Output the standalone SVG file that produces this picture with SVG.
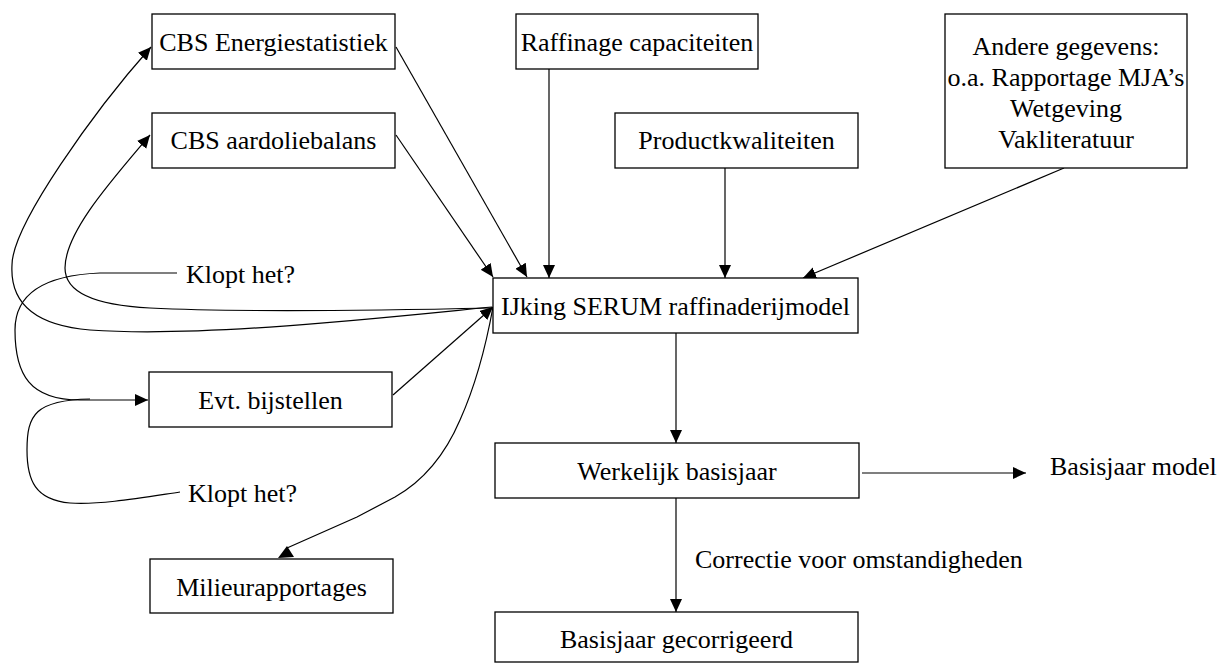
<svg xmlns="http://www.w3.org/2000/svg" width="1221" height="664" viewBox="0 0 1221 664">
<style>
.box{fill:#fff;stroke:#000;stroke-width:1.3}
.t{font-family:"Liberation Serif","Times New Roman",serif;font-size:26px;fill:#000}
.c{text-anchor:middle}
.ln{fill:none;stroke:#000;stroke-width:1.2}
.ar{marker-end:url(#ah)}
</style>
<defs>
<marker id="ah" markerUnits="userSpaceOnUse" markerWidth="14" markerHeight="13" refX="13" refY="6" orient="auto">
<path d="M0,0 L13,6 L0,12 z" fill="#000"/>
</marker>
</defs>
<rect width="1221" height="664" fill="#fff"/>
<g id="connectors">
<path class="ln ar" d="M396,47 L527,277"/>
<path class="ln ar" d="M396,135 L493,277"/>
<path class="ln ar" d="M549,69 L549,278"/>
<path class="ln ar" d="M725,168 L725,278"/>
<path class="ln ar" d="M1064,168 L803,278"/>
<path class="ln ar" d="M676,333 L676,443"/>
<path class="ln ar" d="M676,498 L676,612"/>
<path class="ln ar" d="M862,473 L1026,473"/>
<path class="ln ar" d="M393,395 L493,307"/>
<path class="ln ar" d="M492,307 C380,318 200,338 90,330 C30,325 10,300 12,265 C12,225 95,110 151,47"/>
<path class="ln ar" d="M492,308 C400,310 250,313 150,308 C90,305 65,290 65,268 C65,232 112,180 150,135"/>
<path class="ln ar" d="M177,273 L100,273 C50,275 15,290 15,330 C15,375 30,400 80,400 L148,400"/>
<path class="ln" d="M180,492 C140,498 100,505 70,503 C35,500 27,480 27,450 C27,415 35,400 90,399"/>
<path class="ln" d="M493,307 C487,340 478,380 460,420 C445,455 425,480 395,497 L357,517 L287,548"/>
<polygon points="278,558 287,546 294,557" fill="#000"/>
</g>
<g id="n-cbs-energie"><rect class="box" x="152" y="14" width="243" height="55"/><text class="t c" x="273.5" y="51">CBS Energiestatistiek</text></g>
<g id="n-cbs-aardolie"><rect class="box" x="152" y="113" width="243" height="55"/><text class="t c" x="273.5" y="149">CBS aardoliebalans</text></g>
<g id="n-raffinage"><rect class="box" x="516" y="14" width="242" height="55"/><text class="t c" x="637" y="51">Raffinage capaciteiten</text></g>
<g id="n-product"><rect class="box" x="615" y="113" width="243" height="55"/><text class="t c" x="736.5" y="149">Productkwaliteiten</text></g>
<g id="n-andere"><rect class="box" x="945" y="14" width="242" height="154"/>
<text class="t c" x="1066" y="55">Andere gegevens:</text>
<text class="t c" x="1066" y="86">o.a. Rapportage MJA’s</text>
<text class="t c" x="1066" y="117">Wetgeving</text>
<text class="t c" x="1066" y="148">Vakliteratuur</text></g>
<g id="n-ijking"><rect class="box" x="493" y="278" width="365" height="55"/><text class="t c" x="675.5" y="315">IJking SERUM raffinaderijmodel</text></g>
<g id="n-klopt1"><text class="t" x="186" y="283">Klopt het?</text></g>
<g id="n-evt"><rect class="box" x="149" y="372" width="243" height="55"/><text class="t c" x="270.5" y="409">Evt. bijstellen</text></g>
<g id="n-klopt2"><text class="t" x="188" y="502">Klopt het?</text></g>
<g id="n-milieu"><rect class="box" x="150" y="559" width="243" height="54"/><text class="t c" x="271.5" y="596">Milieurapportages</text></g>
<g id="n-werkelijk"><rect class="box" x="495" y="443" width="364" height="55"/><text class="t c" x="677" y="480">Werkelijk basisjaar</text></g>
<g id="n-basismodel"><text class="t" x="1050" y="475">Basisjaar model</text></g>
<g id="n-correctie"><text class="t" x="695" y="568">Correctie voor omstandigheden</text></g>
<g id="n-gecorrigeerd"><rect class="box" x="495" y="612" width="363" height="50"/><text class="t c" x="676.5" y="648">Basisjaar gecorrigeerd</text></g>
</svg>
